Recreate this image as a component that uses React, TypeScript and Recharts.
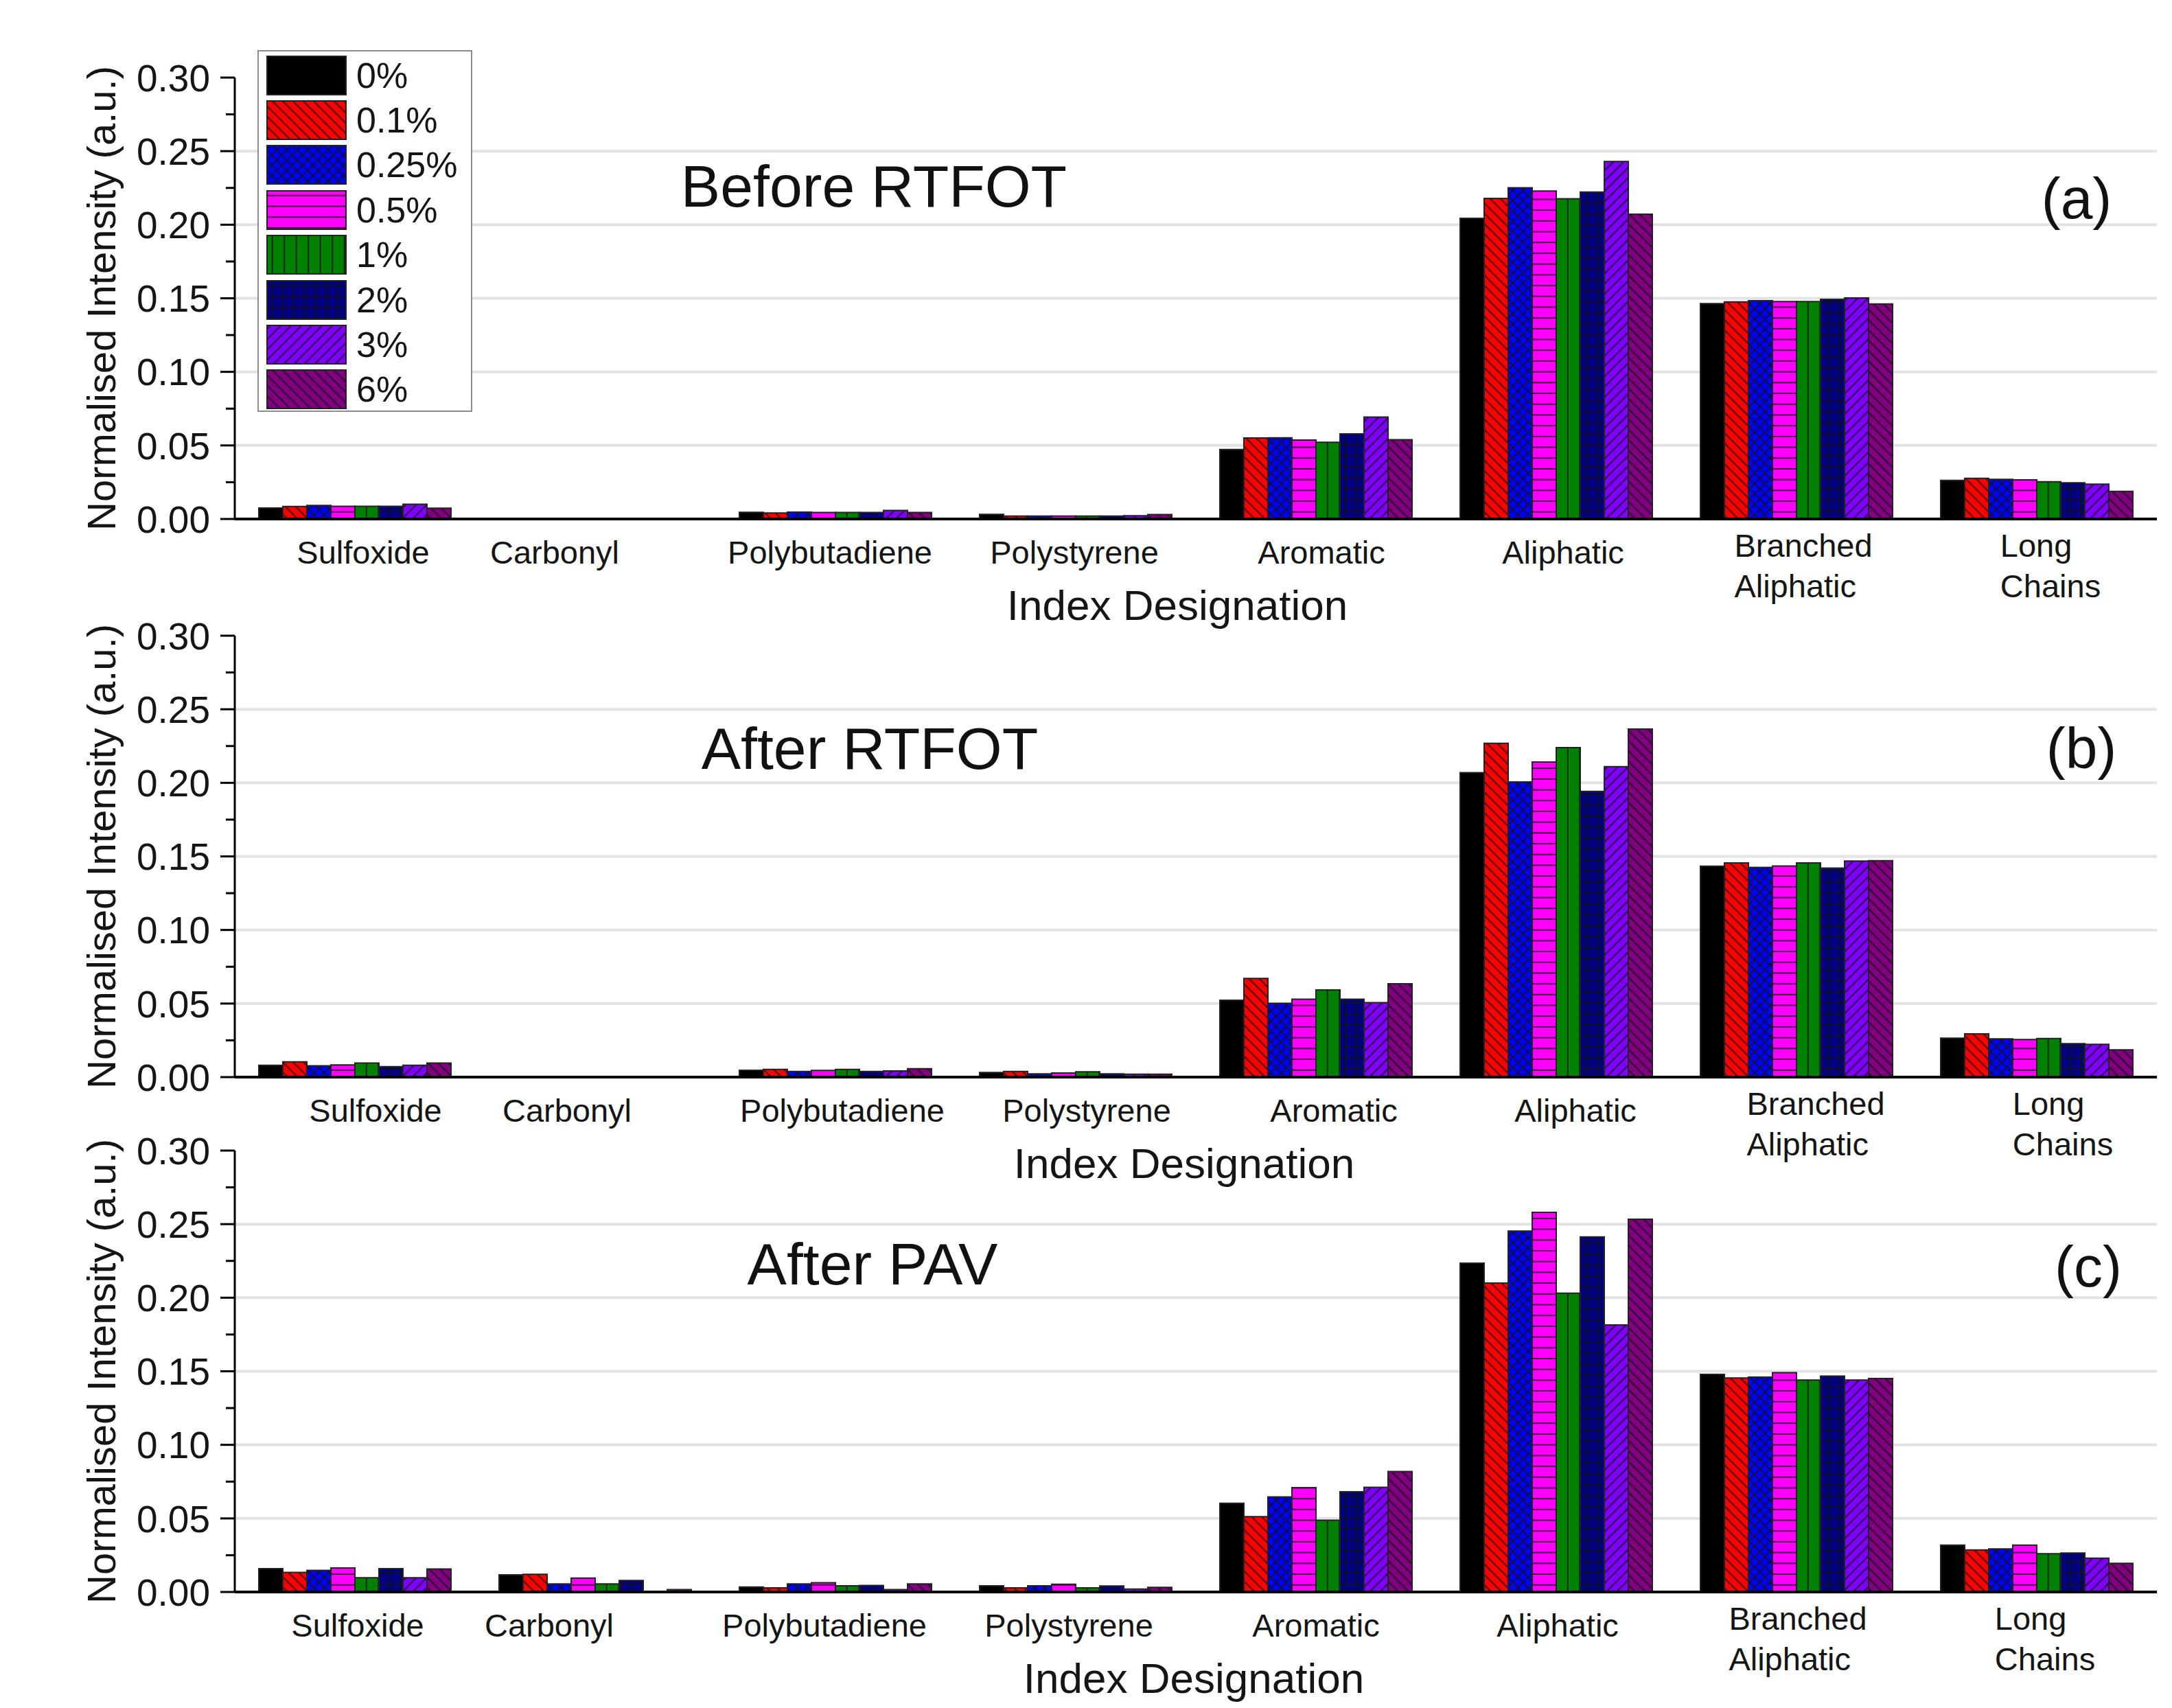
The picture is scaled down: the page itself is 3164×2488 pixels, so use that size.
import React from "react"
import { BarChart, Bar, XAxis, YAxis, CartesianGrid, Legend, Label } from "recharts"

const FONT = '"Liberation Sans", Arial, sans-serif'

const categories = [
  "Sulfoxide",
  "Carbonyl",
  "Polybutadiene",
  "Polystyrene",
  "Aromatic",
  "Aliphatic",
  "Branched Aliphatic",
  "Long Chains",
]
const seriesNames = ["0%", "0.1%", "0.25%", "0.5%", "1%", "2%", "3%", "6%"]
const seriesColors = ["#000000", "#ff0000", "#0000ff", "#ff00ff", "#008000", "#000080", "#8000ff", "#800080"]
const yTicks = [0, 0.025, 0.05, 0.075, 0.1, 0.125, 0.15, 0.175, 0.2, 0.225, 0.25, 0.275, 0.3]

// one row per series, one value per category
const beforeRTFOT = [
  [0.0075, 0, 0.0045, 0.0031, 0.0472, 0.2043, 0.1464, 0.0262],
  [0.0085, 0, 0.0041, 0.002, 0.055, 0.2179, 0.1475, 0.0277],
  [0.0092, 0, 0.0047, 0.002, 0.0552, 0.2251, 0.1484, 0.027],
  [0.0086, 0, 0.0044, 0.002, 0.0536, 0.2229, 0.1478, 0.0266],
  [0.0086, 0, 0.0044, 0.002, 0.0521, 0.2177, 0.1478, 0.0253],
  [0.0086, 0, 0.0044, 0.002, 0.0579, 0.2222, 0.1493, 0.0246],
  [0.01, 0, 0.0058, 0.0022, 0.0693, 0.243, 0.1502, 0.0237],
  [0.0074, 0, 0.0044, 0.003, 0.0539, 0.2072, 0.1462, 0.0188],
]
const afterRTFOT = [
  [0.008, 0, 0.0047, 0.0031, 0.0523, 0.2069, 0.1433, 0.0265],
  [0.0104, 0, 0.0053, 0.0039, 0.0671, 0.2269, 0.1456, 0.0294],
  [0.0077, 0, 0.0038, 0.0022, 0.0502, 0.2006, 0.1425, 0.026],
  [0.0083, 0, 0.0046, 0.0028, 0.0529, 0.2142, 0.1435, 0.0256],
  [0.0096, 0, 0.0052, 0.0036, 0.0592, 0.224, 0.1456, 0.0263],
  [0.0071, 0, 0.0038, 0.0022, 0.0529, 0.1942, 0.1421, 0.0227],
  [0.008, 0, 0.0042, 0.002, 0.0506, 0.211, 0.1469, 0.0223],
  [0.0096, 0, 0.0057, 0.002, 0.0635, 0.2365, 0.1471, 0.0185],
]
const afterPAV = [
  [0.0159, 0.0117, 0.0034, 0.0042, 0.0603, 0.2235, 0.1479, 0.0319],
  [0.0133, 0.012, 0.0028, 0.0028, 0.0512, 0.2099, 0.1455, 0.0286],
  [0.0147, 0.0055, 0.0055, 0.0042, 0.0646, 0.2453, 0.146, 0.0293],
  [0.0163, 0.0094, 0.0063, 0.0053, 0.0709, 0.258, 0.1491, 0.0319],
  [0.0097, 0.0055, 0.0042, 0.0028, 0.0488, 0.2031, 0.1441, 0.026],
  [0.0159, 0.0078, 0.0044, 0.0041, 0.0681, 0.2413, 0.1467, 0.0265],
  [0.0097, 0, 0.0016, 0.002, 0.0711, 0.1815, 0.1441, 0.023],
  [0.0156, 0.0016, 0.0055, 0.0031, 0.0819, 0.2533, 0.1451, 0.0195],
]

// tick labels in the original sit a little off their bar groups
const labelShift = [0, -71, -20, -14, -4, -2, -2, 8]

const buildRows = (values: number[][]) =>
  categories.map((category, ci) => {
    const row: Record<string, string | number> = { category }
    seriesNames.forEach((_, si) => {
      row["s" + si] = values[si][ci]
    })
    return row
  })

const fillFor = (i: number) => (i === 0 ? seriesColors[0] : `url(#pat${i})`)

let measureCtx: CanvasRenderingContext2D | null = null
function textWidth(s: string, size: number) {
  if (!measureCtx) measureCtx = document.createElement("canvas").getContext("2d")
  if (!measureCtx) return s.length * size * 0.5
  measureCtx.font = `${size}px "Liberation Sans"`
  return measureCtx.measureText(s).width
}

function Patterns() {
  const hatch = { stroke: "#111", strokeWidth: 2, strokeOpacity: 0.8 }
  return (
    <svg width={0} height={0} style={{ position: "absolute" }}>
      <defs>
        <pattern id="pat1" patternUnits="userSpaceOnUse" width={10.6} height={10.6} patternTransform="rotate(45)">
          <rect width={10.6} height={10.6} fill={seriesColors[1]} />
          <line x1={0} y1={5.3} x2={10.6} y2={5.3} {...hatch} />
        </pattern>
        <pattern id="pat2" patternUnits="userSpaceOnUse" width={10.6} height={10.6} patternTransform="rotate(45)">
          <rect width={10.6} height={10.6} fill={seriesColors[2]} />
          <line x1={0} y1={5.3} x2={10.6} y2={5.3} {...hatch} />
          <line x1={5.3} y1={0} x2={5.3} y2={10.6} {...hatch} />
        </pattern>
        <pattern id="pat3" patternUnits="userSpaceOnUse" width={15.7} height={15.7}>
          <rect width={15.7} height={15.7} fill={seriesColors[3]} />
          <line x1={0} y1={7.8} x2={15.7} y2={7.8} {...hatch} />
        </pattern>
        <pattern id="pat4" patternUnits="userSpaceOnUse" width={17.5} height={17.5}>
          <rect width={17.5} height={17.5} fill={seriesColors[4]} />
          <line x1={8.7} y1={0} x2={8.7} y2={17.5} {...hatch} />
        </pattern>
        <pattern id="pat5" patternUnits="userSpaceOnUse" width={16} height={16}>
          <rect width={16} height={16} fill={seriesColors[5]} />
          <line x1={0} y1={8} x2={16} y2={8} {...hatch} />
          <line x1={8} y1={0} x2={8} y2={16} {...hatch} />
        </pattern>
        <pattern id="pat6" patternUnits="userSpaceOnUse" width={10.6} height={10.6} patternTransform="rotate(-45)">
          <rect width={10.6} height={10.6} fill={seriesColors[6]} />
          <line x1={0} y1={5.3} x2={10.6} y2={5.3} {...hatch} />
        </pattern>
        <pattern id="pat7" patternUnits="userSpaceOnUse" width={10.6} height={10.6} patternTransform="rotate(45)">
          <rect width={10.6} height={10.6} fill={seriesColors[7]} />
          <line x1={0} y1={5.3} x2={10.6} y2={5.3} {...hatch} />
        </pattern>
      </defs>
    </svg>
  )
}

function YTick(props: any) {
  const { x, y, payload } = props
  const major = Math.round(payload.value / 0.025) % 2 === 0
  return (
    <g>
      <line x1={x - (major ? 21 : 13)} x2={x} y1={y} y2={y} stroke="#000" strokeWidth={3} />
      {major && (
        <text x={x - 36} y={y} dy="0.36em" textAnchor="end" fontSize={55} fill="#151515" fontFamily={FONT}>
          {payload.value.toFixed(2)}
        </text>
      )}
    </g>
  )
}

const makeXTick = (dx: number) =>
  function XTick(props: any) {
    const { x, y, payload } = props
    const ci = categories.indexOf(String(payload.value))
    const cx = x + dx + (ci >= 0 ? labelShift[ci] : 0)
    const lines = String(payload.value).split(" ")
    const size = 47
    if (lines.length === 1) {
      return (
        <text x={cx} y={y + 65} textAnchor="middle" fontSize={size} fill="#151515" fontFamily={FONT}>
          {lines[0]}
        </text>
      )
    }
    const w = Math.max(...lines.map((l) => textWidth(l, size)))
    return (
      <text x={cx - w / 2} y={y + 55} textAnchor="start" fontSize={size} fill="#151515" fontFamily={FONT}>
        {lines.map((l, i) => (
          <tspan key={l} x={cx - w / 2} dy={i === 0 ? 0 : 59}>
            {l}
          </tspan>
        ))}
      </text>
    )
  }

function LegendBox() {
  return (
    <div
      style={{
        border: "2px solid #8c8c8c",
        background: "#fff",
        padding: "2px 0 0 11px",
        width: 313,
        height: 527,
        boxSizing: "border-box",
      }}
    >
      {seriesNames.map((n, i) => (
        <div key={n} style={{ display: "flex", alignItems: "center", height: 65.4 }}>
          <svg width={117} height={58} style={{ display: "block" }}>
            <rect x={1} y={1} width={115} height={56} fill={fillFor(i)} stroke="#222" strokeWidth={2} />
          </svg>
          <span style={{ marginLeft: 14, fontSize: 52, fontFamily: FONT, color: "#151515", lineHeight: 1 }}>{n}</span>
        </div>
      ))}
    </div>
  )
}

function gridLine(p: any) {
  const step = Math.round(p.index)
  if (step === 0 || step === yTicks.length - 1 || step % 2 === 1) return <g key={p.key} />
  return <line key={p.key} x1={p.x1} x2={p.x2} y1={p.y1} y2={p.y2} stroke="#e3e3e3" strokeWidth={4} />
}

interface PanelProps {
  values: number[][]
  top: number
  title: string
  letter: string
  titleX: number
  titleY: number
  letterX: number
  letterY: number
  tickDx: number
  axisTitleDx: number
  legend?: boolean
}

function Panel(p: PanelProps) {
  const data = buildRows(p.values)
  return (
    <div style={{ position: "absolute", left: 0, top: p.top }}>
      <BarChart
        width={3164}
        height={921}
        data={data}
        margin={{ top: 113, right: 22, bottom: 0, left: 0 }}
        barCategoryGap="10%"
        barGap={0}
      >
        <CartesianGrid vertical={false} horizontal={gridLine} />
        <XAxis
          dataKey="category"
          interval={0}
          tickLine={false}
          tickSize={0}
          tickMargin={0}
          height={165}
          axisLine={{ stroke: "#000", strokeWidth: 4 }}
          tick={makeXTick(p.tickDx)}
        >
          <Label
            value="Index Designation"
            position="insideBottom"
            offset={18}
            dx={p.axisTitleDx}
            style={{ fontSize: 62, fill: "#151515", fontFamily: FONT }}
          />
        </XAxis>
        <YAxis
          width={342}
          domain={[0, 0.3]}
          ticks={yTicks}
          interval={0}
          tickLine={false}
          tickSize={0}
          tickMargin={0}
          axisLine={{ stroke: "#000", strokeWidth: 3 }}
          tick={YTick}
        >
          <Label
            value="Normalised Intensity (a.u.)"
            angle={-90}
            position="insideLeft"
            offset={147}
            style={{ fontSize: 58, fill: "#151515", fontFamily: FONT, textAnchor: "middle" }}
          />
        </YAxis>
        {seriesNames.map((name, i) => (
          <Bar
            key={name}
            dataKey={"s" + i}
            name={name}
            fill={fillFor(i)}
            stroke="#222"
            strokeWidth={2}
            isAnimationActive={false}
          />
        ))}
        {p.legend && (
          <Legend
            layout="vertical"
            align="center"
            verticalAlign="middle"
            content={<LegendBox />}
            wrapperStyle={{ left: 375, top: 73, width: 313, height: 527 }}
          />
        )}
        <text x={p.titleX} y={p.titleY} dy="0.36em" textAnchor="middle" fontSize={86} fill="#111" fontFamily={FONT}>
          {p.title}
        </text>
        <text x={p.letterX} y={p.letterY} dy="0.36em" textAnchor="middle" fontSize={84} fill="#111" fontFamily={FONT}>
          {p.letter}
        </text>
      </BarChart>
    </div>
  )
}

export default function App() {
  return (
    <div style={{ position: "relative", width: 3164, height: 2488, background: "#fff", overflow: "hidden" }}>
      <style>{"body{margin:0}"}</style>
      <Patterns />
      <Panel
        values={beforeRTFOT}
        top={0}
        title="Before RTFOT"
        letter="(a)"
        titleX={1273}
        titleY={270}
        letterX={3025}
        letterY={288}
        tickDx={12}
        axisTitleDx={-27}
        legend
      />
      <Panel
        values={afterRTFOT}
        top={813}
        title="After RTFOT"
        letter="(b)"
        titleX={1267}
        titleY={276}
        letterX={3032}
        letterY={276}
        tickDx={30}
        axisTitleDx={-17}
      />
      <Panel
        values={afterPAV}
        top={1563}
        title="After PAV"
        letter="(c)"
        titleX={1271}
        titleY={277}
        letterX={3042}
        letterY={281}
        tickDx={4}
        axisTitleDx={-3}
      />
    </div>
  )
}
